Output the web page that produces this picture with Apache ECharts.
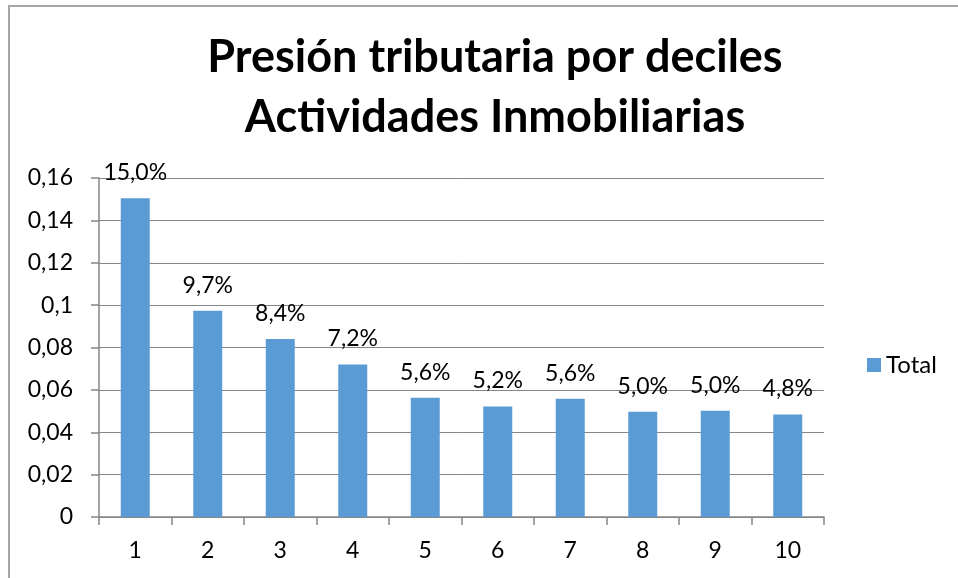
<!DOCTYPE html>
<html><head><meta charset="utf-8">
<script src="https://cdn.jsdelivr.net/npm/echarts@6/dist/echarts.min.js"></script>
<style>html,body{margin:0;padding:0;background:#fff}#c{width:958px;height:578px}</style>
</head><body><div id="c"></div>
<script>
var categories = ['1','2','3','4','5','6','7','8','9','10'];
var totalValues = [0.1505, 0.0973, 0.0840, 0.0720, 0.0563, 0.0522, 0.0558, 0.0497, 0.0502, 0.0484];
var yTicks = [0, 0.02, 0.04, 0.06, 0.08, 0.1, 0.12, 0.14, 0.16];
var titleLines = ['Presión tributaria por deciles', 'Actividades Inmobiliarias'];

var FONT = 'Lato, "Open Sans", sans-serif';
var chart = echarts.init(document.getElementById('c'), null, {renderer: 'canvas'});
chart.setOption({
  animation: false,
  backgroundColor: '#fff',
  title: {
    text: titleLines.join('\n'),
    left: 490, top: 22, textAlign: 'center',
    textStyle: {fontFamily: FONT, fontWeight: 'bold', fontSize: 45, color: '#000', lineHeight: 60}
  },
  graphic: [{
    type: 'rect', shape: {x: 9, y: 6, width: 1000, height: 700},
    style: {fill: 'none', stroke: '#a6a6a6', lineWidth: 2}, silent: true
  }],
  legend: {
    data: ['Total'], left: 862, top: 348, orient: 'vertical',
    icon: 'rect', itemWidth: 14, itemHeight: 14, itemGap: 6,
    textStyle: {fontFamily: FONT, fontSize: 24, color: '#000'}
  },
  grid: {left: 99, right: 134, top: 178, bottom: 61},
  xAxis: {
    type: 'category', data: categories,
    axisLine: {lineStyle: {color: '#868686', width: 1.5}},
    axisTick: {show: true, length: 8, lineStyle: {color: '#868686', width: 1.5}},
    axisLabel: {fontFamily: FONT, fontSize: 23, color: '#000', margin: 22}
  },
  yAxis: {
    type: 'value', min: 0, max: 0.16, interval: 0.02,
    axisLine: {show: true, lineStyle: {color: '#868686', width: 1.5}},
    axisTick: {show: true, length: 8, lineStyle: {color: '#868686', width: 1.5}},
    splitLine: {lineStyle: {color: '#868686', width: 1}},
    axisLabel: {
      fontFamily: FONT, fontSize: 23, color: '#000', margin: 26,
      formatter: function (v) {
        var t = yTicks.find(function (x) { return Math.abs(x - v) < 1e-9; });
        return String(+(t !== undefined ? t : v).toFixed(2)).replace('.', ',');
      }
    }
  },
  series: [{
    name: 'Total', type: 'bar', data: totalValues, barWidth: '40%',
    itemStyle: {color: '#5B9BD5'},
    label: {
      show: true, position: 'top', distance: 14,
      fontFamily: FONT, fontSize: 23, color: '#000',
      formatter: function (p) { return (p.value * 100).toFixed(1).replace('.', ',') + '%'; }
    }
  }]
});
</script></body></html>
